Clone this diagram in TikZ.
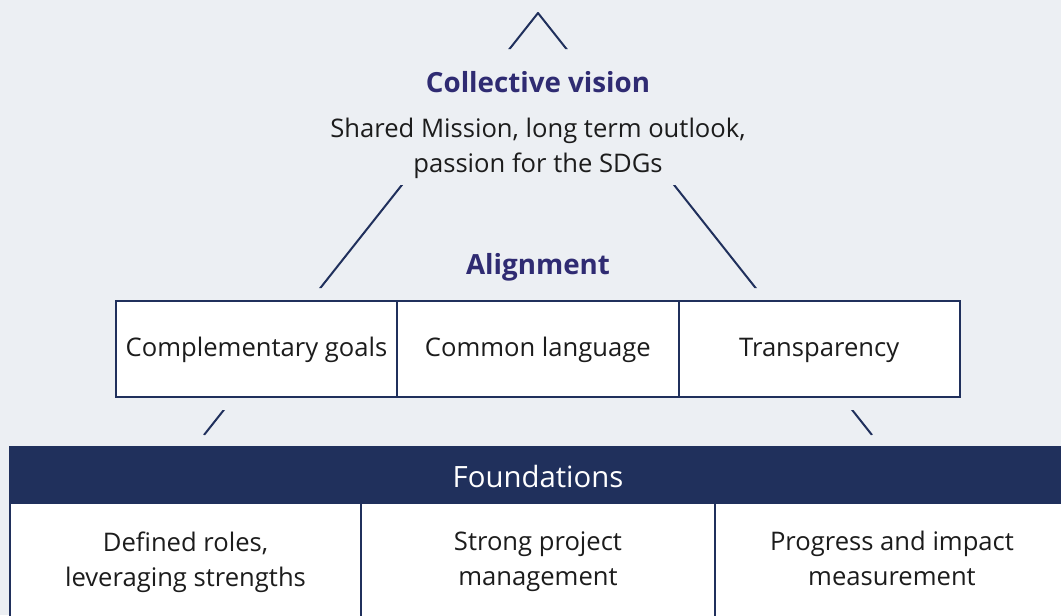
\documentclass[tikz,border=0pt]{standalone}
\usepackage{fontspec}
\setmainfont{Open Sans}
\usetikzlibrary{positioning}
\definecolor{navy}{HTML}{20305C}
\definecolor{headblue}{HTML}{2F2B72}
\definecolor{paleblue}{HTML}{ECEFF3}
\definecolor{bodytext}{HTML}{1C1C1C}

\newcommand\lowstrut{\rule[-5.6pt]{0pt}{5.6pt}}

\tikzset{
  heading/.style={text=headblue, font=\fontsize{20.8}{24}\selectfont\bfseries, anchor=base},
  body/.style={text=bodytext, font=\fontsize{19.2}{26.25}\selectfont, align=center,
    execute at begin node=\strut, execute at end node=\lowstrut},
  cell/.style={body, draw=navy, line width=1.5pt, fill=white, inner sep=0pt, outer sep=0pt,
    minimum width=211pt, minimum height=72pt},
  basecell/.style={body, draw=navy, line width=1.5pt, fill=white, inner sep=0pt, outer sep=0pt,
    minimum height=91.5pt},
  slope/.style={draw=navy, line width=1.5pt, line join=round},
}

\begin{document}
\begin{tikzpicture}[x=0.75pt, y=-0.75pt]
    \fill[paleblue] (0,0) rectangle (1061,615);
    \useasboundingbox (0,0) rectangle (1061,615);

    \coordinate (apex) at (538,13);
    \coordinate (baseL) at (204,435);
    \coordinate (baseR) at (872,435);
    \begin{scope}
        \clip (0,0) rectangle (1061,49) (0,185) rectangle (1061,288) (0,410) rectangle (1061,435);
        \draw[slope] (baseL) -- (apex) -- (baseR);
    \end{scope}

    \node[heading] (vision) at (538,92) {Collective vision};
    \node[body] (mission) at (538,150.5) {Shared Mission, long term outlook,\\ passion for the SDGs};
    \node[heading] (align) at (538,274.5) {Alignment};

    \node[cell] (goals) at (256.5,349) {Complementary goals};
    \node[cell, right=0pt of goals] (language) {Common language};
    \node[cell, right=0pt of language] (transparency) {Transparency};

    \fill[navy] (9,446) rectangle (1067,503);
    \node[text=white, font=\fontsize{22}{26}\selectfont, anchor=base] (found) at (538,487) {Foundations};

    \node[basecell, minimum width=263.25pt] (roles) at (185.5,564) {Defined roles,\\ leveraging strengths};
    \node[basecell, minimum width=265.5pt] (project) at (538,564) {Strong project\\ management};
    \node[basecell, minimum width=265.5pt] (impact) at (892,564) {Progress and impact\\ measurement};
\end{tikzpicture}
\end{document}
